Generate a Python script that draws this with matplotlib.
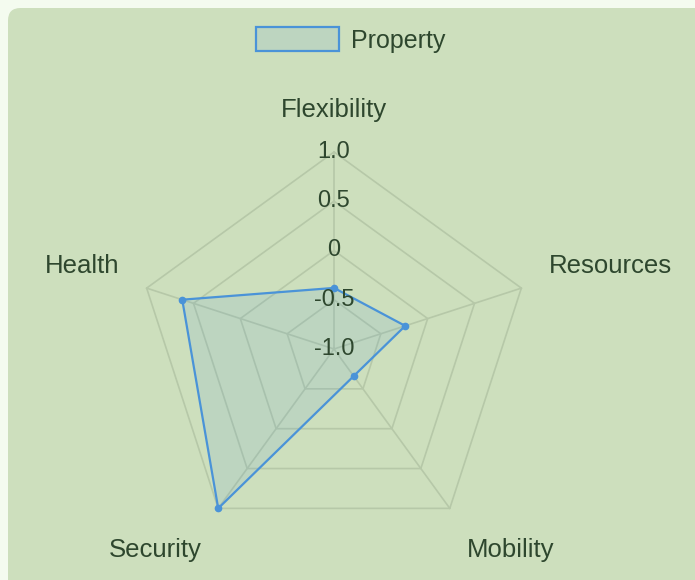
import numpy as np
import matplotlib.pyplot as plt
from matplotlib.patches import FancyBboxPatch, Patch

categories = ["Flexibility", "Resources", "Mobility", "Security", "Health"]
property_values = [-0.38, -0.24, -0.66, 1.0, 0.62]
tick_values = [-1.0, -0.5, 0, 0.5, 1.0]
tick_labels = ["-1.0", "-0.5", "0", "0.5", "1.0"]

text_color = "#2e472e"
grid_color = "#b6c8a8"
line_color = "#4a93d8"
plt.rcParams['font.family'] = ['Liberation Sans', 'DejaVu Sans']

W, H = 695, 580
fig = plt.figure(figsize=(W / 100, H / 100), dpi=100)
fig.patch.set_facecolor("#f4fbef")

# rounded green panel
panel = FancyBboxPatch((8 / W, -0.1), 1.2, 1.1 - 8 / H,
                       boxstyle="round,pad=0,rounding_size=0.018",
                       mutation_aspect=W / H,
                       transform=fig.transFigure, facecolor="#cddfbd",
                       edgecolor="none", zorder=-10)
fig.patches.append(panel)

cx, cy, R = 334, 349, 197
ax = fig.add_axes([(cx - R) / W, (H - cy - R) / H, 2 * R / W, 2 * R / H],
                  projection="polar")
ax.set_theta_zero_location("N")
ax.set_theta_direction(-1)
ax.set_ylim(-1, 1)
ax.grid(False)
ax.set_xticks([])
ax.set_yticks([])
ax.spines["polar"].set_visible(False)
ax.patch.set_alpha(0)

n = len(categories)
angles = np.arange(n) * 2 * np.pi / n
closed = np.append(angles, angles[0])

# pentagon grid rings and spokes
for v in tick_values[1:]:
    ax.plot(closed, [v] * (n + 1), color=grid_color, lw=1.2, zorder=1,
            clip_on=False)
for a in angles:
    ax.plot([a, a], [-1, 1], color=grid_color, lw=1.2, zorder=1,
            clip_on=False)

vals = np.append(property_values, property_values[0])
ax.fill(closed, vals, color=line_color, alpha=0.12, lw=0, zorder=2,
        clip_on=False)
ax.plot(closed, vals, color=line_color, lw=1.6, zorder=3, clip_on=False)
ax.plot(angles, property_values, "o", color=line_color, ms=4.5, zorder=4,
        clip_on=False)

for v, lab in zip(tick_values, tick_labels):
    ax.text(0, v, lab, ha="center", va="center", fontsize=17,
            color=text_color, zorder=5)

# point labels, aligned the chart.js way
for a, lab in zip(angles, categories):
    deg = np.degrees(a)
    if np.isclose(deg, 0) or np.isclose(deg, 180):
        ha = "center"
    elif deg < 180:
        ha = "left"
    else:
        ha = "right"
    top = deg < 90 or deg > 270
    va = "bottom" if top else "top"
    ax.annotate(lab, (a, 1.29), xytext=(0, 1 if top else -5),
                textcoords="offset points", ha=ha, va=va,
                fontsize=18.5, color=text_color, annotation_clip=False)

fig.legend(handles=[Patch(facecolor=line_color, alpha=0.12)],
           labels=["Property"], loc="center",
           bbox_to_anchor=(351 / W, 1 - 40 / H), frameon=False,
           fontsize=18, handlelength=3.3, handleheight=1.05,
           handletextpad=0.5, labelcolor=text_color)
leg = fig.legends[0]
h = leg.legend_handles[0]
h.set_edgecolor(line_color)
h.set_linewidth(1.6)
h.set_facecolor((74 / 255, 147 / 255, 216 / 255, 0.12))
h.set_alpha(None)

fig.savefig("out.png", dpi=100, facecolor=fig.get_facecolor())
